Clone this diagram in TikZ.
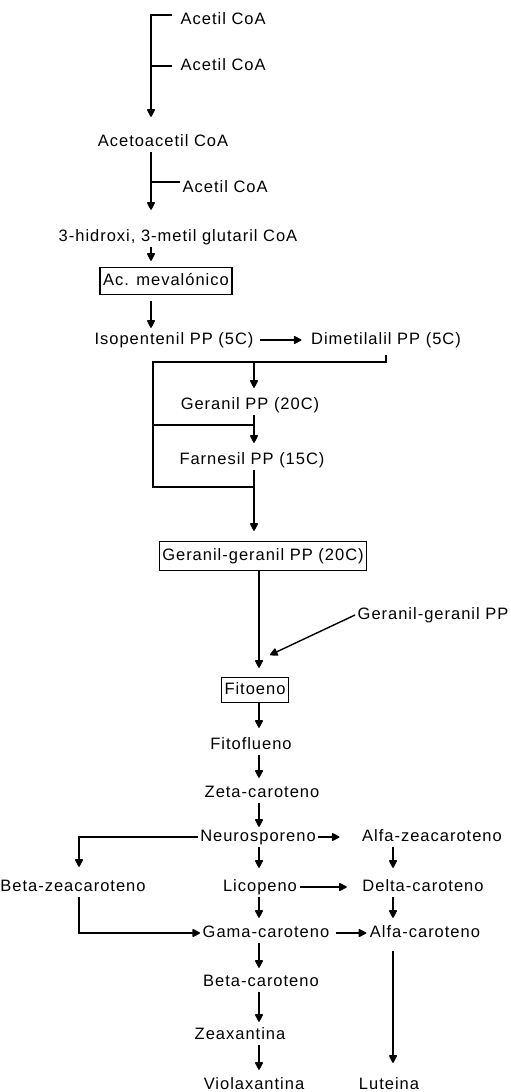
\documentclass[tikz,border=0pt]{standalone}
\usepackage{fontspec}
\setmainfont{Liberation Sans}[LetterSpace=6]
\usetikzlibrary{arrows.meta}
\begin{document}
\begin{tikzpicture}[x=1pt,y=-1pt,line width=1.4pt,
    font=\fontsize{16.5}{18}\selectfont,
    every node/.style={inner sep=2pt,text height=12pt,text depth=3pt},
    box/.style={draw,line width=1.4pt,inner xsep=3pt,minimum height=27pt},
    arr/.style={-{Triangle[length=8.5pt,width=8.5pt,round]}}]
    \useasboundingbox (0,0) rectangle (511,1092);
    \coordinate (sp) at (151,0);
    \coordinate (sp2) at (254,0);
    \coordinate (sp3) at (259,0);
    \coordinate (sp4) at (393,0);
    \coordinate (sp5) at (79,0);
    \coordinate (jA) at (153,362);
    \coordinate (jB) at (153,425);
    \coordinate (jC) at (153,487);
    \coordinate (ggin) at (270,655);

    \node[anchor=west] (aca1) at (178,20) {Acetil CoA};
    \node[anchor=west] (aca2) at (178,66) {Acetil CoA};
    \node (acac) at (163,142) {Acetoacetil CoA};
    \node[anchor=west] (aca3) at (180,188) {Acetil CoA};
    \node (hmg) at (178,237) {3-hidroxi, 3-metil glutaril CoA};
    \node[box] (mev) at (166,281) {Ac. mevalónico};
    \node (ipp) at (174,340) {Isopentenil PP (5C)};
    \node (dma) at (386,340) {Dimetilalil PP (5C)};
    \node (ger) at (250,405) {Geranil PP (20C)};
    \node (far) at (252,460) {Farnesil PP (15C)};
    \node[box,minimum height=29pt] (gg) at (263,556) {Geranil-geranil PP (20C)};
    \node[anchor=west] (gg2) at (355,615) {Geranil-geranil PP};
    \node[box,minimum height=25pt] (fit) at (255,690) {Fitoeno};
    \node (ffl) at (251,745) {Fitoflueno};
    \node (zeta) at (262,793) {Zeta-caroteno};
    \node (neu) at (258,837) {Neurosporeno};
    \node (alz) at (432,837) {Alfa-zeacaroteno};
    \node (bzc) at (73,887) {Beta-zeacaroteno};
    \node (lic) at (260,887) {Licopeno};
    \node (del) at (423,887) {Delta-caroteno};
    \node (gam) at (266,933) {Gama-caroteno};
    \node (alc) at (425,933) {Alfa-caroteno};
    \node (bca) at (261,982) {Beta-caroteno};
    \node (zea) at (240,1035) {Zeaxantina};
    \node (vio) at (254,1085) {Violaxantina};
    \node (lut) at (389,1085) {Luteina};

    \draw[arr,shorten <=6pt,shorten >=15pt] ([yshift=5pt]aca1.west) -| (acac.north -| sp);
    \draw[shorten <=6pt] (aca2.west) -- (aca2.west -| sp);
    \draw ([yshift=6pt]aca3.west) -- ([yshift=6pt]aca3.west -| sp);
    \draw[arr,shorten >=17pt] (acac.south -| sp) -- (hmg.north -| sp);
    \draw[arr,shorten >=6pt] (hmg.south -| sp) -- (mev.north -| sp);
    \draw[arr,shorten <=6pt,shorten >=2pt] (mev.south -| sp) -- (ipp.north -| sp);
    \draw[arr,shorten <=4pt,shorten >=7pt] (ipp) -- (dma);

    \draw[shorten <=5pt] (dma.south) |- (jA) -- (jC) -- (jC -| sp2);
    \draw (jB) -- (jB -| sp2);
    \draw[arr,shorten >=7pt] (jA -| sp2) -- (ger.north -| sp2);
    \draw[arr,shorten >=7pt] (ger.south -| sp2) -- (far.north -| sp2);
    \draw[arr,shorten >=10pt] (far.south -| sp2) -- (gg.north -| sp2);
    \draw[arr,shorten >=9pt] (gg.south -| sp3) -- (fit.north -| sp3);
    \draw[arr] (gg2.west) -- (ggin);

    \draw[arr,shorten >=7pt] (fit.south -| sp3) -- (ffl.north -| sp3);
    \draw[arr,shorten >=5pt] (ffl.south -| sp3) -- (zeta.north -| sp3);
    \draw[arr] (zeta.south -| sp3) -- (neu.north -| sp3);
    \draw[arr,shorten >=20pt] (neu) -- (alz);
    \draw[arr,shorten >=10pt] (neu.west) -| (bzc.north -| sp5);
    \draw[arr,shorten >=9pt] (neu.south -| sp3) -- (lic.north -| sp3);
    \draw[arr,shorten >=9pt] (alz.south -| sp4) -- (del.north -| sp4);
    \draw[arr,shorten >=13pt] (lic) -- (del);
    \draw[arr] (bzc.south -| sp5) |- (gam.west);
    \draw[arr,shorten >=5pt] (lic.south -| sp3) -- (gam.north -| sp3);
    \draw[arr,shorten >=5pt] (del.south -| sp4) -- (alc.north -| sp4);
    \draw[arr,shorten <=4pt,shorten >=1pt] (gam) -- (alc);
    \draw[arr,shorten >=4pt] (gam.south -| sp3) -- (bca.north -| sp3);
    \draw[arr,shorten >=3pt] (bca.south -| sp3) -- (zea.north -| sp3);
    \draw[arr,shorten >=5pt] (zea.south -| sp3) -- (vio.north -| sp3);
    \draw[arr,shorten <=8pt,shorten >=12pt] (alc.south -| sp4) -- (lut.north -| sp4);
\end{tikzpicture}
\end{document}
